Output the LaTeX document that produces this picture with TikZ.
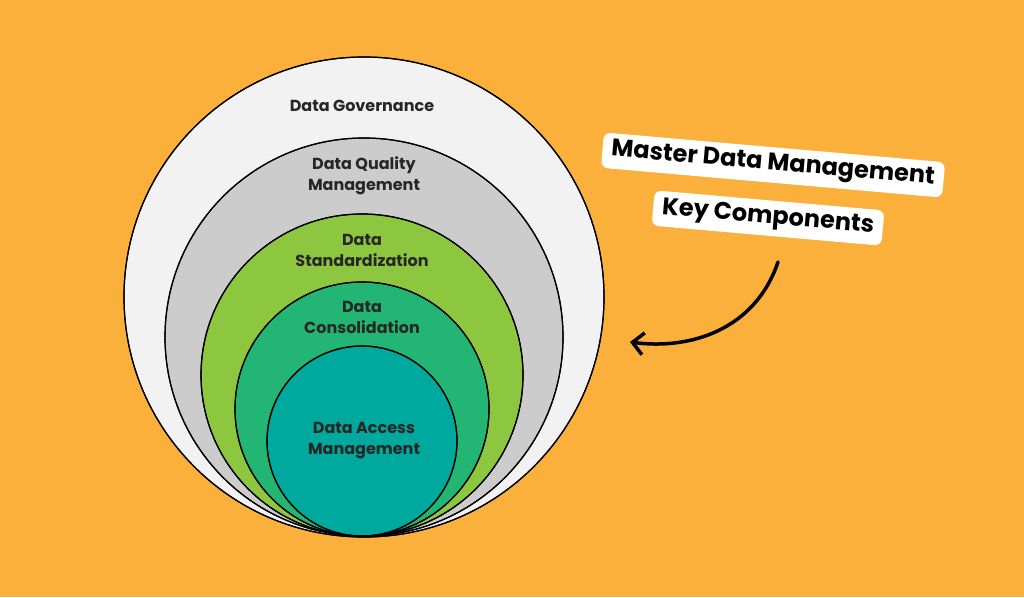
\documentclass[tikz,border=0pt]{standalone}
\usepackage{fontspec}
\setmainfont{Poppins}
\usetikzlibrary{arrows.meta}
\definecolor{bg}{HTML}{FBB03B}
\definecolor{c1}{HTML}{F2F2F2}
\definecolor{c2}{HTML}{CCCCCC}
\definecolor{c3}{HTML}{8DC63F}
\definecolor{c4}{HTML}{22B573}
\definecolor{c5}{HTML}{00A99D}
\tikzset{
  ring/.style={draw=black,line width=1.2pt},
  lab/.style={font=\fontsize{16}{21}\selectfont\bfseries,align=center,text=black!85},
  tag/.style={fill=white,rounded corners=7pt,font=\fontsize{24}{28}\selectfont\bfseries,inner xsep=9pt,inner ysep=6pt,rotate=-5,text=black}
}
\begin{document}
\begin{tikzpicture}[x=1pt,y=-1pt]
\fill[bg] (0,0) rectangle (1024,597);
\useasboundingbox (0,0) rectangle (1024,597);
\fill[ring,fill=c1] (364,297) circle[radius=240];
\fill[ring,fill=c2] (364,337) circle[radius=199];
\fill[ring,fill=c3] (362,375) circle[radius=161];
\fill[ring,fill=c4] (362,409) circle[radius=127];
\fill[ring,fill=c5] (362,441) circle[radius=95];
\draw[ring] (364,297) circle[radius=240];
\draw[ring] (364,337) circle[radius=199];
\draw[ring] (362,375) circle[radius=161];
\draw[ring] (362,409) circle[radius=127];
\draw[ring] (362,441) circle[radius=95];
\node[lab] (g) at (362,106) {Data Governance};
\node[lab] (q) at (364,176) {Data Quality\\Management};
\node[lab] (s) at (362,250) {Data\\Standardization};
\node[lab] (c) at (362,317) {Data\\Consolidation};
\node[lab] (a) at (364,441) {Data Access\\Management};
\node[tag] (t2) at (768,218) {Key Components};
\node[tag] (t1) at (773,165) {Master Data Management};
\coordinate (s0) at (778,262);
\coordinate (e0) at (630,342);
\draw[line width=3.5pt,line cap=round,-{Straight Barb[length=11pt,width=22pt,line width=3.5pt]}]
  (s0) .. controls (755,330) and (690,350) .. (e0);
\end{tikzpicture}
\end{document}
